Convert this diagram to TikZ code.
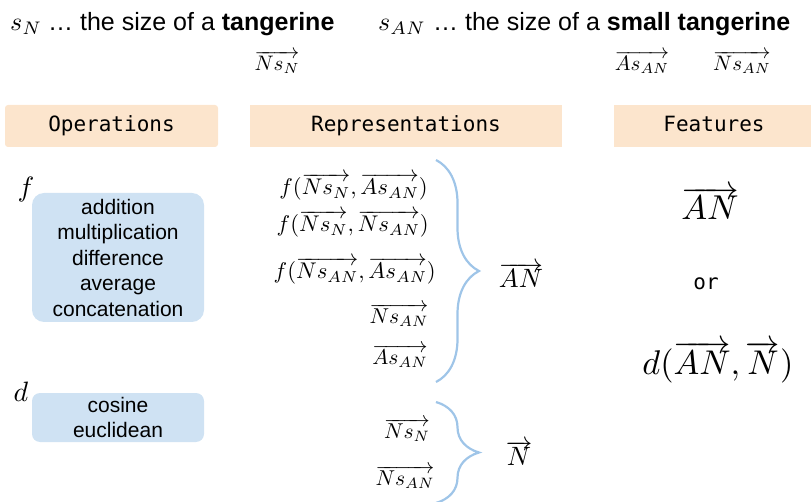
\documentclass[tikz,border=0pt]{standalone}
\usepackage[no-math]{fontspec}
\usepackage{graphicx}
\usetikzlibrary{decorations.pathreplacing}
\newfontfamily\sansf{Liberation Sans}
\newfontfamily\monof{DejaVu Sans Mono}
\definecolor{peach}{HTML}{FCE5CD}
\definecolor{lblue}{HTML}{CFE2F3}
\definecolor{bracec}{HTML}{9FC5E8}
\newcommand{\vv}[1]{\overrightarrow{#1}}
\newcommand{\mth}[2]{\scalebox{#1}{$#2$}}
\tikzset{
  hdr/.style={fill=peach, draw=none, rounded corners=3pt, text height=15pt, text depth=4pt, font=\monof\fontsize{21}{22}\selectfont},
  opbox/.style={fill=lblue, draw=none, rounded corners=12pt, font=\sansf\fontsize{21}{25.5}\selectfont, align=center},
  toptext/.style={font=\sansf\fontsize{25}{26}\selectfont, anchor=base west, inner sep=0pt},
  mnode/.style={font=\fontsize{10}{12}\selectfont, inner sep=0pt},
  brc/.style={draw=bracec, line width=2.2pt, decorate, decoration={brace, amplitude=43pt}},
}
\begin{document}
\begin{tikzpicture}[x=1pt,y=-1pt]
\useasboundingbox (0,0) rectangle (811,502);
% top line
\node[mnode, anchor=base west] (sn) at (10,31) {\mth{2.6}{s_N}};
\node[toptext] (t1) at (48,31) {\dots\ the size of a \textbf{tangerine}};
\node[mnode, anchor=base west] (san) at (378,31) {\mth{2.6}{s_{AN}}};
\node[toptext] (t2) at (433,31) {\dots\ the size of a \textbf{small tangerine}};
\node[mnode] (v1) at (277,62) {\mth{2.1}{\vv{Ns_N}}};
\node[mnode] (v2) at (642,62) {\mth{2.1}{\vv{As_{AN}}}};
\node[mnode] (v3) at (742,62) {\mth{2.1}{\vv{Ns_{AN}}}};
% headers
\node[hdr, minimum width=213pt, minimum height=42pt] (hop) at (111.5,126) {Operations};
\node[hdr, minimum width=312pt, minimum height=42pt, rounded corners=0pt] (hrep) at (406,126) {Representations};
\node[hdr, minimum width=200pt, minimum height=42pt, rounded corners=0pt] (hfeat) at (714,126) {Features};
% operations
\node[opbox, minimum width=172pt, minimum height=129pt] (ops) at (118,257.5) {addition\\multiplication\\difference\\average\\concatenation};
\node[mnode] (f) at (26,190) {\mth{2.8}{f}};
\node[opbox, minimum width=172pt, minimum height=49pt, rounded corners=8pt] (dist) at (118,417.5) {cosine\\euclidean};
\node[mnode] (d) at (21,392) {\mth{2.8}{d}};
% representations
\node[mnode, anchor=east] (r1) at (428,187) {\mth{2.27}{f(\vv{Ns_N},\vv{As_{AN}})}};
\node[mnode, anchor=east] (r2) at (429,224) {\mth{2.27}{f(\vv{Ns_N},\vv{Ns_{AN}})}};
\node[mnode, anchor=east] (r3) at (436,271) {\mth{2.27}{f(\vv{Ns_{AN}},\vv{As_{AN}})}};
\node[mnode] (r4) at (399,315) {\mth{2.15}{\vv{Ns_{AN}}}};
\node[mnode] (r5) at (400,356) {\mth{2.15}{\vv{As_{AN}}}};
\coordinate (b1t) at (436,160);
\coordinate (b1b) at (436,382);
\draw[brc] (b1t) -- (b1b);
\node[mnode] (an1) at (521,275) {\mth{2.65}{\vv{AN}}};
\node[mnode] (r6) at (407,430) {\mth{2.15}{\vv{Ns_N}}};
\node[mnode] (r7) at (405,477) {\mth{2.15}{\vv{Ns_{AN}}}};
\coordinate (b2t) at (436,402);
\coordinate (b2b) at (436,503);
\draw[brc] (b2t) -- (b2b);
\node[mnode] (n1) at (519,453) {\mth{2.65}{\vv{N}}};
% features
\node[mnode] (fa) at (710,203) {\mth{3.45}{\vv{AN}}};
\node[font=\monof\fontsize{21}{22}\selectfont, inner sep=0pt] (or) at (706,284) {or};
\node[mnode] (fd) at (718,362) {\mth{3.43}{d(\vv{AN},\vv{N})}};
\end{tikzpicture}
\end{document}
